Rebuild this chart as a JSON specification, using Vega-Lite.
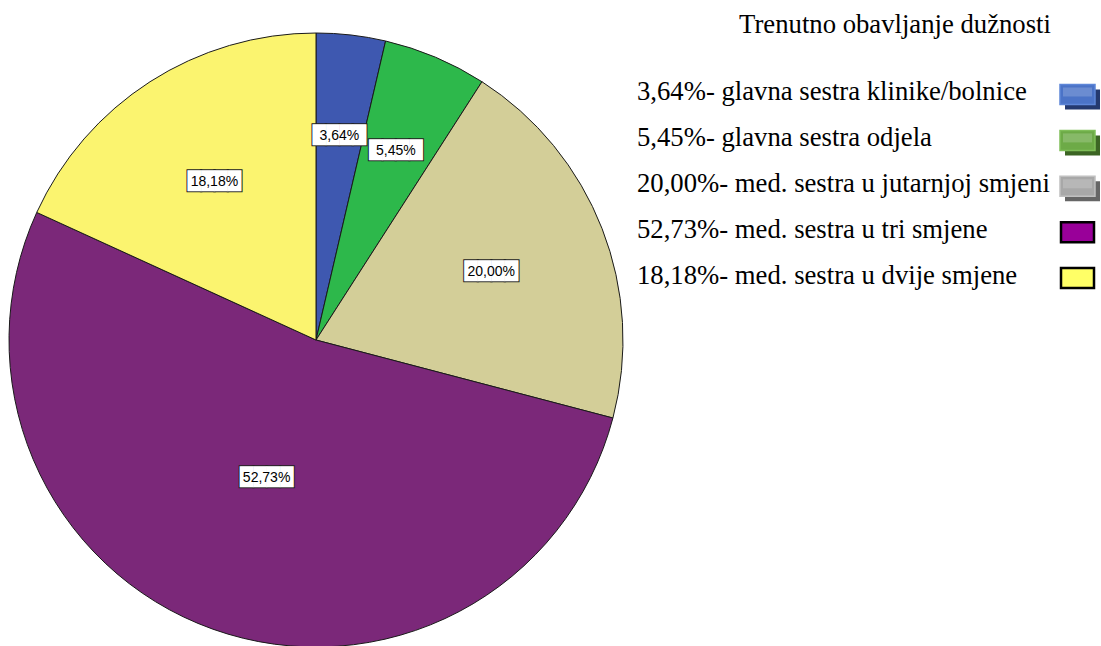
{
  "$schema": "https://vega.github.io/schema/vega-lite/v6.json",
  "padding": 0,
  "spacing": 0,
  "background": "white",
  "config": {"view": {"stroke": null}},
  "datasets": {
    "rows": [
      {"category": "glavna sestra klinike/bolnice", "value": 3.64, "label": "3,64%", "legend": "3,64%- glavna sestra klinike/bolnice", "order": 1},
      {"category": "glavna sestra odjela", "value": 5.45, "label": "5,45%", "legend": "5,45%- glavna sestra odjela", "order": 2},
      {"category": "med. sestra u jutarnjoj smjeni", "value": 20.0, "label": "20,00%", "legend": "20,00%- med. sestra u jutarnjoj smjeni", "order": 3},
      {"category": "med. sestra u tri smjene", "value": 52.73, "label": "52,73%", "legend": "52,73%- med. sestra u tri smjene", "order": 4},
      {"category": "med. sestra u dvije smjene", "value": 18.18, "label": "18,18%", "legend": "18,18%- med. sestra u dvije smjene", "order": 5}
    ]
  },
  "hconcat": [
    {
      "width": 632,
      "height": 680,
      "data": {"name": "rows"},
      "encoding": {
        "theta": {"field": "value", "type": "quantitative", "stack": true},
        "order": {"field": "order", "type": "quantitative"}
      },
      "layer": [
        {
          "mark": {"type": "arc", "outerRadius": 307, "stroke": "#1a1a1a", "strokeWidth": 1},
          "encoding": {
            "color": {
              "field": "category",
              "type": "nominal",
              "scale": {
                "domain": ["glavna sestra klinike/bolnice", "glavna sestra odjela", "med. sestra u jutarnjoj smjeni", "med. sestra u tri smjene", "med. sestra u dvije smjene"],
                "range": ["#3E58B0", "#2DB84B", "#D3CE98", "#7B2879", "#FBF46F"]
              },
              "legend": null
            }
          }
        },
        {
          "mark": {"type": "text", "radius": 205, "font": "DejaVu Sans", "fontSize": 17.5, "fill": "#222", "stroke": "#222", "strokeWidth": 2, "align": "center", "baseline": "middle"},
          "encoding": {"text": {"condition": {"test": "datum.order <= 2", "value": "████"}, "value": ""}}
        },
        {
          "mark": {"type": "text", "radius": 205, "font": "DejaVu Sans", "fontSize": 17.5, "fill": "white", "align": "center", "baseline": "middle"},
          "encoding": {"text": {"condition": {"test": "datum.order <= 2", "value": "████"}, "value": ""}}
        },
        {
          "mark": {"type": "text", "radius": 205, "font": "Liberation Sans", "fontSize": 14, "fill": "black", "align": "center", "baseline": "middle"},
          "encoding": {"text": {"condition": {"test": "datum.order <= 2", "field": "label", "type": "nominal"}, "value": ""}}
        },
        {
          "mark": {"type": "text", "radius": 188, "font": "DejaVu Sans", "fontSize": 17.5, "fill": "#222", "stroke": "#222", "strokeWidth": 2, "align": "center", "baseline": "middle"},
          "encoding": {"text": {"condition": {"test": "datum.order == 3 || datum.order == 5", "value": "████"}, "value": ""}}
        },
        {
          "mark": {"type": "text", "radius": 188, "font": "DejaVu Sans", "fontSize": 17.5, "fill": "white", "align": "center", "baseline": "middle"},
          "encoding": {"text": {"condition": {"test": "datum.order == 3 || datum.order == 5", "value": "████"}, "value": ""}}
        },
        {
          "mark": {"type": "text", "radius": 188, "font": "Liberation Sans", "fontSize": 14, "fill": "black", "align": "center", "baseline": "middle"},
          "encoding": {"text": {"condition": {"test": "datum.order == 3 || datum.order == 5", "field": "label", "type": "nominal"}, "value": ""}}
        },
        {
          "mark": {"type": "text", "radius": 147, "font": "DejaVu Sans", "fontSize": 17.5, "fill": "#222", "stroke": "#222", "strokeWidth": 2, "align": "center", "baseline": "middle"},
          "encoding": {"text": {"condition": {"test": "datum.order == 4", "value": "████"}, "value": ""}}
        },
        {
          "mark": {"type": "text", "radius": 147, "font": "DejaVu Sans", "fontSize": 17.5, "fill": "white", "align": "center", "baseline": "middle"},
          "encoding": {"text": {"condition": {"test": "datum.order == 4", "value": "████"}, "value": ""}}
        },
        {
          "mark": {"type": "text", "radius": 147, "font": "Liberation Sans", "fontSize": 14, "fill": "black", "align": "center", "baseline": "middle"},
          "encoding": {"text": {"condition": {"test": "datum.order == 4", "field": "label", "type": "nominal"}, "value": ""}}
        }
      ]
    },
    {
      "width": 469,
      "height": 646,
      "resolve": {"scale": {"fill": "independent", "stroke": "independent"}},
      "layer": [
        {
          "data": {"values": [{"t": "Trenutno obavljanje dužnosti"}]},
          "mark": {"type": "text", "font": "Liberation Serif", "fontSize": 26.7, "align": "center", "baseline": "alphabetic", "color": "black"},
          "encoding": {
            "x": {"datum": 263, "type": "quantitative", "scale": {"domain": [0, 469], "nice": false, "zero": false}, "axis": null},
            "y": {"datum": -0.4705, "type": "quantitative", "scale": {"domain": [-1.1895, 12.885], "nice": false, "zero": false, "reverse": true}, "axis": null},
            "text": {"field": "t", "type": "nominal"}
          }
        },
        {
          "data": {"name": "rows"},
          "mark": {"type": "text", "font": "Liberation Serif", "fontSize": 26.7, "align": "left", "baseline": "alphabetic", "color": "black"},
          "encoding": {
            "x": {"datum": 5, "type": "quantitative"},
            "y": {"field": "order", "type": "quantitative"},
            "text": {"field": "legend", "type": "nominal"}
          }
        },
        {
          "data": {"name": "rows"},
          "transform": [{"filter": "datum.order <= 3"}],
          "mark": {"type": "point", "shape": "M5,-11H40V9H5Z", "size": 4, "filled": true, "opacity": 1, "strokeWidth": 0},
          "encoding": {
            "x": {"datum": 428, "type": "quantitative"},
            "y": {"field": "order", "type": "quantitative"},
            "fill": {
              "field": "category",
              "type": "nominal",
              "scale": {"domain": ["glavna sestra klinike/bolnice", "glavna sestra odjela", "med. sestra u jutarnjoj smjeni"], "range": ["#24396F", "#3C6524", "#666666"]},
              "legend": null
            }
          }
        },
        {
          "data": {"name": "rows"},
          "transform": [{"filter": "datum.order <= 3"}],
          "mark": {"type": "point", "shape": "M0,-16H35V4H0Z", "size": 4, "filled": true, "opacity": 1, "strokeWidth": 1.5},
          "encoding": {
            "x": {"datum": 428, "type": "quantitative"},
            "y": {"field": "order", "type": "quantitative"},
            "fill": {
              "field": "category",
              "type": "nominal",
              "scale": {"domain": ["glavna sestra klinike/bolnice", "glavna sestra odjela", "med. sestra u jutarnjoj smjeni"], "range": ["#4B73C7", "#6DAA47", "#A8A8A8"]},
              "legend": null
            },
            "stroke": {
              "field": "category",
              "type": "nominal",
              "scale": {"domain": ["glavna sestra klinike/bolnice", "glavna sestra odjela", "med. sestra u jutarnjoj smjeni"], "range": ["#5E86D8", "#7FBE58", "#C0C0C0"]},
              "legend": null
            }
          }
        },
        {
          "data": {"name": "rows"},
          "transform": [{"filter": "datum.order <= 3"}],
          "mark": {"type": "point", "shape": "M3,-13H32V-4H3Z", "size": 4, "filled": true, "fill": "white", "opacity": 0.18, "strokeWidth": 0},
          "encoding": {
            "x": {"datum": 428, "type": "quantitative"},
            "y": {"field": "order", "type": "quantitative"}
          }
        },
        {
          "data": {"name": "rows"},
          "transform": [{"filter": "datum.order > 3"}],
          "mark": {"type": "point", "shape": "M1,-16H34V4H1Z", "size": 4, "filled": true, "opacity": 1, "stroke": "black", "strokeWidth": 2.5},
          "encoding": {
            "x": {"datum": 428, "type": "quantitative"},
            "y": {"field": "order", "type": "quantitative"},
            "fill": {
              "field": "category",
              "type": "nominal",
              "scale": {"domain": ["med. sestra u tri smjene", "med. sestra u dvije smjene"], "range": ["#990099", "#FFFF66"]},
              "legend": null
            }
          }
        }
      ]
    }
  ]
}
